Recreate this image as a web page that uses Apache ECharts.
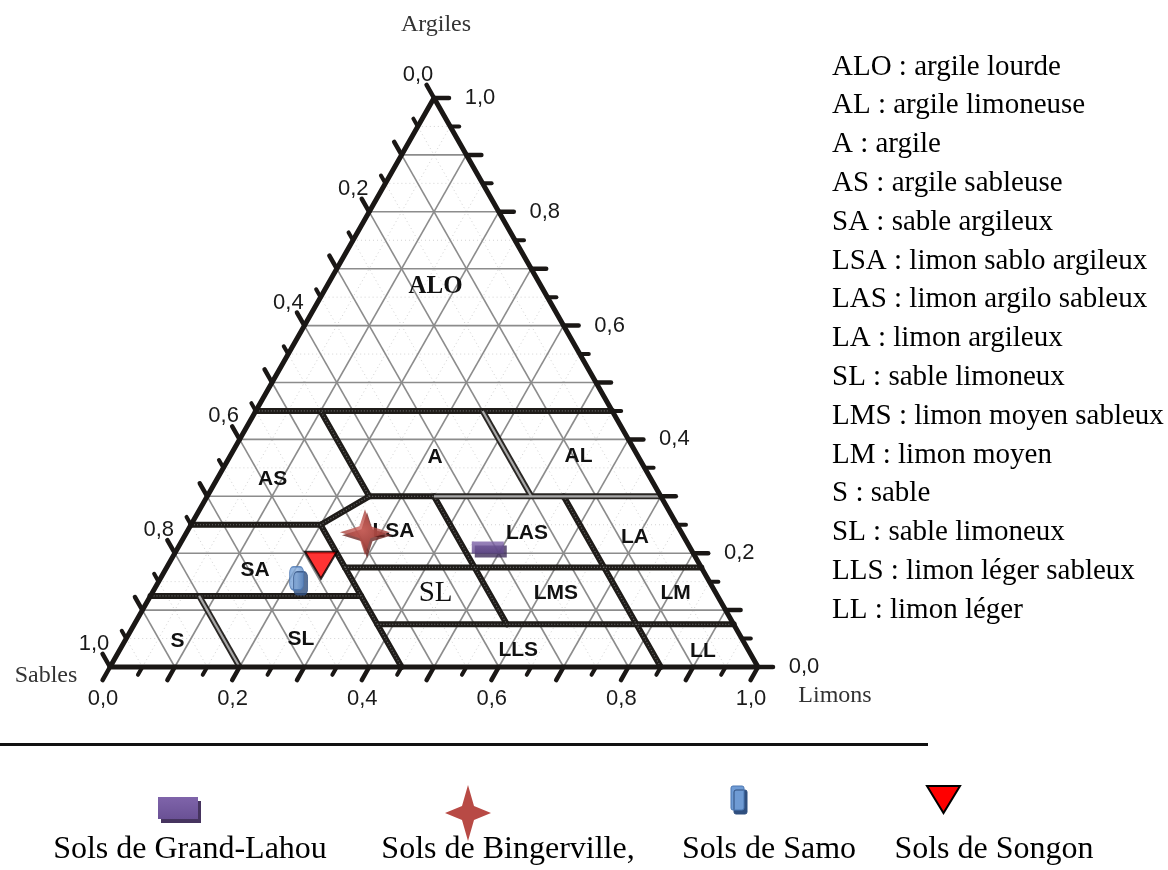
<!DOCTYPE html>
<html>
<head>
<meta charset="utf-8">
<script src="https://cdn.jsdelivr.net/npm/echarts@6/dist/echarts.min.js"></script>
<style>
  html, body { margin: 0; padding: 0; background: #ffffff; }
  #chart { width: 1168px; height: 870px; }
</style>
</head>
<body>
<div id="chart"></div>
<script>
// Sites échantillonnés et composition granulométrique (%)
const sites  = ['Sols de Grand-Lahou', 'Sols de Bingerville,', 'Sols de Samo', 'Sols de Songon'];
const argile = [21.0, 23.7, 15.6, 17.9];
const limon  = [47.8, 27.5, 21.0, 23.6];
const sable  = [31.2, 48.8, 63.4, 58.5];

// Graduations des trois côtés
const tickValues = [0, 0.2, 0.4, 0.6, 0.8, 1.0];
const tickLabels = ['0,0', '0,2', '0,4', '0,6', '0,8', '1,0'];

// Classes texturales
const classCodes = ['ALO', 'AL', 'A', 'AS', 'SA', 'LSA', 'LAS', 'LA', 'SL', 'LMS', 'LM', 'S', 'SL', 'LLS', 'LL'];
const classNames = ['argile lourde', 'argile limoneuse', 'argile', 'argile sableuse', 'sable argileux',
  'limon sablo argileux', 'limon argilo sableux', 'limon argileux', 'sable limoneux',
  'limon moyen sableux', 'limon moyen', 'sable', 'sable limoneux', 'limon léger sableux', 'limon léger'];

// Limites des classes : suites de points [argile %, limon %]
const limitesPleines = [
  [[45, 0], [45, 55]],
  [[25, 0], [25, 20], [30, 25], [45, 10]],
  [[30, 25], [30, 35]],
  [[25, 20], [0, 45]],
  [[17.5, 27.5], [17.5, 82.5]],
  [[12.5, 0], [12.5, 32.5]],
  [[7.5, 37.5], [7.5, 92.5]],
  [[30, 35], [7.5, 57.5]],
  [[30, 55], [0, 85]]
];
const limitesDoubles = [
  [[30, 35], [30, 70]],
  [[45, 35], [30, 50]],
  [[12.5, 7.5], [0, 20]]
];

// Étiquettes des classes dans le triangle : [texte, argile %, limon %, style]
const zoneLabels = [
  ['ALO', 66.9, 16.8, 'serifBold'], ['A', 36.9, 31.7, 'sans'], ['AS', 33.0, 8.6, 'sans'],
  ['AL', 37.0, 53.8, 'sans'], ['LSA', 23.9, 31.8, 'sans'], ['LAS', 23.5, 52.6, 'sans'],
  ['LA', 22.8, 69.6, 'sans'], ['SA', 17.0, 13.9, 'sans'], ['SL', 12.9, 43.8, 'serif'],
  ['LMS', 13.0, 62.3, 'sans'], ['LM', 13.0, 80.8, 'sans'], ['S', 4.6, 8.1, 'sans'],
  ['SL', 4.9, 27.0, 'sans'], ['LLS', 3.0, 61.5, 'sans'], ['LL', 2.8, 90.1, 'sans']
];

// ---- géométrie du triangle dans le repère cartésien (x, y) ----
const GRID = { left: 110, top: 98, width: 648, height: 569 };
function pt(a, l) { return [l / 100 + a / 200, a / 100]; }
function px2data(dx, dy) { return [dx / GRID.width, -dy / GRID.height]; }

const majorGrid = [], minorGrid = [];
for (let k = 5; k < 100; k += 5) {
  const target = (k % 10 === 0) ? majorGrid : minorGrid;
  target.push([pt(k, 0), pt(k, 100 - k)]);        // argile constante
  target.push([pt(0, k), pt(100 - k, k)]);        // limon constant
  target.push([pt(0, 100 - k), pt(100 - k, 0)]);  // sable constant
}

// Graduations (traits) des trois côtés
const majorTicks = [], minorTicks = [];
const dirBottom = [-0.494, 0.870], dirLeft = [-0.495, -0.869], dirRight = [1, 0];
function tick(p, dir, len) {
  const d = px2data(dir[0] * len, dir[1] * len);
  return [p, [p[0] + d[0], p[1] + d[1]]];
}
for (let k = 0; k <= 100; k += 5) {
  const major = k % 10 === 0;
  const len = major ? 15 : 9;
  const list = major ? majorTicks : minorTicks;
  list.push(tick(pt(0, k), dirBottom, len));          // limon sur la base
  list.push(tick(pt(100 - k, 0), dirLeft, len));      // sable sur le côté gauche
  list.push(tick(pt(k, 100 - k), dirRight, len));     // argile sur le côté droit
}

// Étiquettes des graduations : point du côté + décalage en pixels
const tickLabelItems = [];
tickValues.forEach((v, i) => {
  const k = v * 100;
  tickLabelItems.push({ p: pt(0, k), text: tickLabels[i], off: [-7, 32] });
  tickLabelItems.push({ p: pt(100 - k, 0), text: tickLabels[i], off: [-16, -23] });
  tickLabelItems.push({ p: pt(k, 100 - k), text: tickLabels[i], off: [46, 0] });
});

const border = [pt(0, 0), pt(0, 100), pt(100, 0), pt(0, 0)];

const zoneFonts = {
  sans: 'bold 21px "Liberation Sans"',
  serif: '29px "Liberation Serif"',
  serifBold: 'bold 25px "Liberation Serif"'
};

// Symboles des sites
const starPath = 'path://M50,0 L61,37 L100,50 L61,63 L50,100 L39,63 L0,50 L39,37 Z';
const markerDefs = [
  { symbol: 'rect', symbolSize: [32, 12],
    itemStyle: { color: new echarts.graphic.LinearGradient(0, 0, 0, 1, [{ offset: 0, color: '#7f64aa' }, { offset: 1, color: '#5e4688' }]),
      shadowColor: '#3f2d5c', shadowOffsetX: 3, shadowOffsetY: 4, shadowBlur: 0 } },
  { symbol: starPath, symbolSize: [50, 46],
    itemStyle: { color: new echarts.graphic.RadialGradient(0.45, 0.45, 0.55, [{ offset: 0, color: '#d4645d' }, { offset: 1, color: '#973833' }]),
      shadowColor: '#6e2522', shadowOffsetX: 2, shadowOffsetY: 3, shadowBlur: 0 } },
  { symbol: 'roundRect', symbolSize: [14, 23],
    itemStyle: { color: new echarts.graphic.LinearGradient(0, 0, 1, 0, [{ offset: 0, color: '#6b98d2' }, { offset: 0.5, color: '#8db3e2' }, { offset: 1, color: '#5a86c2' }]),
      borderColor: '#4a76b2', borderWidth: 1, shadowColor: '#2f4f7f', shadowOffsetX: 4, shadowOffsetY: 5, shadowBlur: 0 } },
  { symbol: 'triangle', symbolSize: [32, 27], symbolRotate: 180,
    itemStyle: { color: '#ff0000', borderColor: '#000000', borderWidth: 2 } }
];

const siteSeries = sites.map((name, i) => Object.assign({
  type: 'scatter', name: name, z: 20, clip: false, silent: true,
  data: [pt(argile[i], limon[i])]
}, markerDefs[i]));

function linesSeries(data, style, z) {
  return { type: 'lines', coordinateSystem: 'cartesian2d', polyline: true, silent: true, clip: false, z: z,
    data: data.map(c => ({ coords: c })), lineStyle: Object.assign({ opacity: 1 }, style) };
}
const toXY = l => l.map(p => pt(p[0], p[1]));

const option = {
  animation: false,
  backgroundColor: '#ffffff',
  grid: { left: GRID.left, top: GRID.top, width: GRID.width, height: GRID.height },
  xAxis: { type: 'value', min: 0, max: 1, show: false },
  yAxis: { type: 'value', min: 0, max: 1, show: false },
  series: [
    linesSeries(minorGrid, { color: '#d2d2d2', width: 1, type: [1, 3] }, 1),
    linesSeries(majorGrid, { color: '#8c8c8c', width: 1.6 }, 2),
    linesSeries(limitesPleines.map(toXY), { color: '#1f1c19', width: 6, join: 'round', cap: 'round' }, 3),
    linesSeries(limitesPleines.map(toXY), { color: '#6a6a6a', width: 1.2, type: [1, 2] }, 3),
    linesSeries(limitesDoubles.map(toXY), { color: '#2a2724', width: 6, cap: 'butt' }, 3),
    linesSeries(limitesDoubles.map(toXY), { color: '#a8a8a8', width: 2.2, cap: 'butt' }, 3),
    linesSeries(majorTicks, { color: '#1a1715', width: 4.5, cap: 'round' }, 4),
    linesSeries(minorTicks, { color: '#1a1715', width: 4, cap: 'round' }, 4),
    linesSeries([border], { color: '#1a1715', width: 5, join: 'round', cap: 'round' }, 5)
  ].concat(siteSeries)
};

const chart = echarts.init(document.getElementById('chart'));
chart.setOption(option);

// Textes placés à partir du repère du graphique
const toPx = p => chart.convertToPixel({ gridIndex: 0 }, p);
const graphics = [];

tickLabelItems.forEach(t => {
  const q = toPx(t.p);
  graphics.push({ type: 'text', x: q[0] + t.off[0], y: q[1] + t.off[1], z: 30,
    style: { text: t.text, font: '22px "Liberation Sans"', fill: '#1a1a1a', align: 'center', verticalAlign: 'middle' } });
});
zoneLabels.forEach(z => {
  const q = toPx(pt(z[1], z[2]));
  graphics.push({ type: 'text', x: q[0], y: q[1], z: 10,
    style: { text: z[0], font: zoneFonts[z[3]], fill: '#111111', align: 'center', verticalAlign: 'middle' } });
});

// Noms des sommets
const cornerTitles = [['Argiles', 436, 25], ['Sables', 46, 676], ['Limons', 835, 696]];
cornerTitles.forEach(t => graphics.push({
  type: 'text', x: t[1], y: t[2],
  style: { text: t[0], font: '24px "Liberation Serif"', fill: '#333333', align: 'center', verticalAlign: 'middle' }
}));

// Liste des classes texturales
classCodes.forEach((c, i) => graphics.push({
  type: 'text', x: 832, y: 67 + i * 38.8,
  style: { text: c + ' : ' + classNames[i], font: '29px "Liberation Serif"', fill: '#000000', verticalAlign: 'middle' }
}));

// Trait de séparation
graphics.push({ type: 'line', shape: { x1: 0, y1: 744.5, x2: 928, y2: 744.5 },
  style: { stroke: '#111111', lineWidth: 3 } });

// Légende des sites
const legendX = [190, 508, 769, 994];
const legendIcons = [
  { type: 'rect', x: 158, y: 797, shape: { width: 40, height: 22 },
    style: { fill: new echarts.graphic.LinearGradient(0, 0, 0, 1, [{ offset: 0, color: '#7f64aa' }, { offset: 1, color: '#6a5195' }]),
      shadowColor: '#46345f', shadowOffsetX: 3, shadowOffsetY: 4 } },
  { type: 'polygon', shape: { points: [[468, 785], [474, 806], [491, 813], [474, 820], [468, 841], [462, 820], [445, 813], [462, 806]] },
    style: { fill: '#b84a45' } },
  { type: 'rect', x: 731, y: 786, shape: { width: 13, height: 24, r: 2 },
    style: { fill: '#6f9bd4', stroke: '#4a76b2', shadowColor: '#2f4f7f', shadowOffsetX: 3, shadowOffsetY: 4 } },
  { type: 'polygon', shape: { points: [[927, 786], [960, 786], [943.5, 813]] },
    style: { fill: '#ff0000', stroke: '#000000', lineWidth: 2 } }
];
legendIcons.forEach(g => graphics.push(g));
sites.forEach((s, i) => graphics.push({
  type: 'text', x: legendX[i], y: 850,
  style: { text: s, font: '32px "Liberation Serif"', fill: '#000000', align: 'center', verticalAlign: 'middle' }
}));

chart.setOption({ graphic: graphics });
</script>
</body>
</html>
